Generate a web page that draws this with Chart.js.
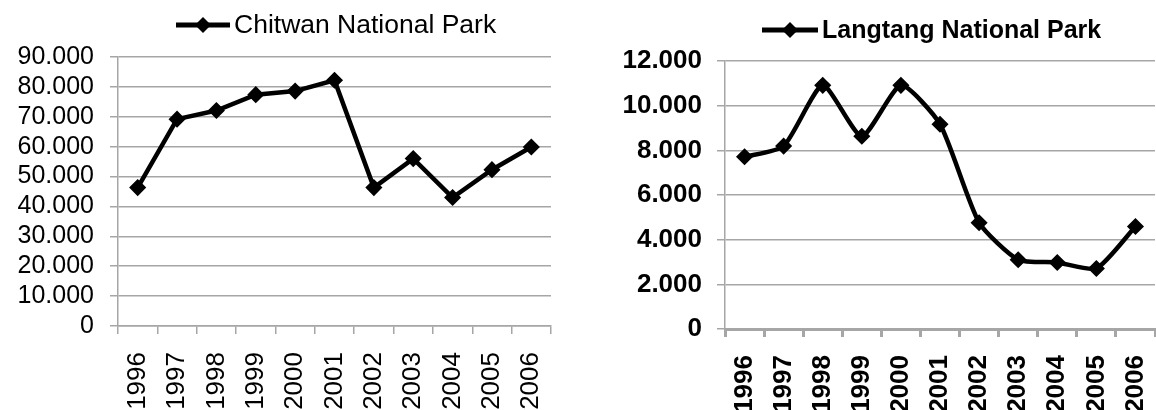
<!DOCTYPE html>
<html>
<head>
<meta charset="utf-8">
<script src="https://cdn.jsdelivr.net/npm/chart.js@4.4.1/dist/chart.umd.min.js"></script>
<style>
  html, body { margin: 0; padding: 0; background: #fff; overflow: hidden; }
  #left { position: absolute; left: 0; top: 0; width: 578px; height: 420px; }
  #right { position: absolute; left: 578px; top: 0; width: 586px; height: 420px; }
</style>
</head>
<body>
<div id="left"><canvas id="chitwan"></canvas></div>
<div id="right"><canvas id="langtang"></canvas></div>
<script>
var years = ["1996", "1997", "1998", "1999", "2000", "2001", "2002", "2003", "2004", "2005", "2006"];

var chitwanVisitors = [46300, 69200, 72100, 77400, 78600, 82200, 46300, 56000, 43000, 52300, 59900];
var langtangVisitors = [7710, 8190, 10910, 8630, 10910, 9170, 4760, 3100, 2980, 2710, 4590];

var chitwanTicks = [0, 10000, 20000, 30000, 40000, 50000, 60000, 70000, 80000, 90000];
var langtangTicks = [0, 2000, 4000, 6000, 8000, 10000, 12000];

// 90000 -> "90.000"
function dotThousands(v) {
    return String(v).replace(/\B(?=(\d{3})+(?!\d))/g, '.');
}

// legend: short line with a diamond in the middle, then the series name
var markerLegend = {
    id: 'markerLegend',
    afterDraw: function (chart, args, opts) {
        var ctx = chart.ctx;
        var cx = opts.x + opts.len / 2;
        ctx.save();
        ctx.strokeStyle = '#000';
        ctx.lineWidth = 5;
        ctx.beginPath();
        ctx.moveTo(opts.x, opts.y);
        ctx.lineTo(opts.x + opts.len, opts.y);
        ctx.stroke();
        ctx.fillStyle = '#000';
        ctx.beginPath();
        ctx.moveTo(cx - 8, opts.y);
        ctx.lineTo(cx, opts.y - 8);
        ctx.lineTo(cx + 8, opts.y);
        ctx.lineTo(cx, opts.y + 8);
        ctx.closePath();
        ctx.fill();
        ctx.font = opts.font;
        ctx.textBaseline = 'middle';
        ctx.fillText(chart.data.datasets[0].label, opts.x + opts.len + opts.gap, opts.y + 1);
        ctx.restore();
    }
};

function makeChart(id, label, values, tickValues, g) {
    var fontFamily = "'Liberation Sans', Arial, sans-serif";
    var ctx = document.getElementById(id).getContext('2d');
    return new Chart(ctx, {
        type: 'line',
        data: {
            labels: years,
            datasets: [{
                label: label,
                data: values,
                borderColor: '#000',
                borderWidth: 4.5,
                tension: g.tension,
                pointStyle: 'rectRot',
                pointRadius: 7.5,
                pointBackgroundColor: '#000',
                pointBorderColor: '#000',
                pointBorderWidth: 1.5
            }]
        },
        options: {
            responsive: true,
            maintainAspectRatio: false,
            animation: false,
            events: [],
            layout: { padding: { top: g.top, right: g.right, left: 0, bottom: 0 } },
            plugins: {
                legend: { display: false },
                tooltip: { enabled: false },
                markerLegend: { x: g.legX, y: g.legY, len: g.legLen, gap: 4, font: g.weight + ' ' + g.legSize + 'px ' + fontFamily }
            },
            scales: {
                x: {
                    offset: true,
                    grid: { offset: true, drawOnChartArea: false, drawTicks: true, tickLength: 8, color: '#a6a6a6', lineWidth: g.axisWidth },
                    border: { display: true, color: '#a6a6a6', width: g.axisWidth },
                    ticks: {
                        autoSkip: false, minRotation: 90, maxRotation: 90, padding: 18,
                        color: '#000', font: { family: fontFamily, size: 26, weight: g.weight }
                    },
                    afterFit: function (scale) {
                        scale.height = g.xHeight;
                        scale.paddingLeft = 0;
                        scale.paddingRight = 0;
                    }
                },
                y: {
                    min: tickValues[0],
                    max: tickValues[tickValues.length - 1],
                    grid: { color: '#a6a6a6', lineWidth: 1.5, tickLength: 8 },
                    border: { display: true, color: '#a6a6a6', width: 1.5 },
                    afterBuildTicks: function (scale) {
                        scale.ticks = tickValues.map(function (v) { return { value: v }; });
                    },
                    ticks: {
                        autoSkip: false,
                        padding: g.yPad,
                        color: '#000',
                        font: { family: fontFamily, size: g.ySize, weight: g.weight },
                        callback: function (v) { return dotThousands(v); }
                    },
                    afterFit: function (scale) { scale.width = g.yWidth; }
                }
            }
        },
        plugins: [markerLegend]
    });
}

makeChart('chitwan', 'Chitwan National Park', chitwanVisitors, chitwanTicks, {
    top: 57, right: 27, yWidth: 118, xHeight: 94, yPad: 16, tension: 0, ySize: 25, legSize: 26.5,
    weight: 'normal', axisWidth: 1.5, legX: 176, legY: 25, legLen: 54
});

makeChart('langtang', 'Langtang National Park', langtangVisitors, langtangTicks, {
    top: 61, right: 3, yWidth: 147, xHeight: 91, yPad: 15, tension: 0.2, ySize: 26, legSize: 25,
    weight: 'bold', axisWidth: 3, legX: 184, legY: 30, legLen: 56
});
</script>
</body>
</html>
